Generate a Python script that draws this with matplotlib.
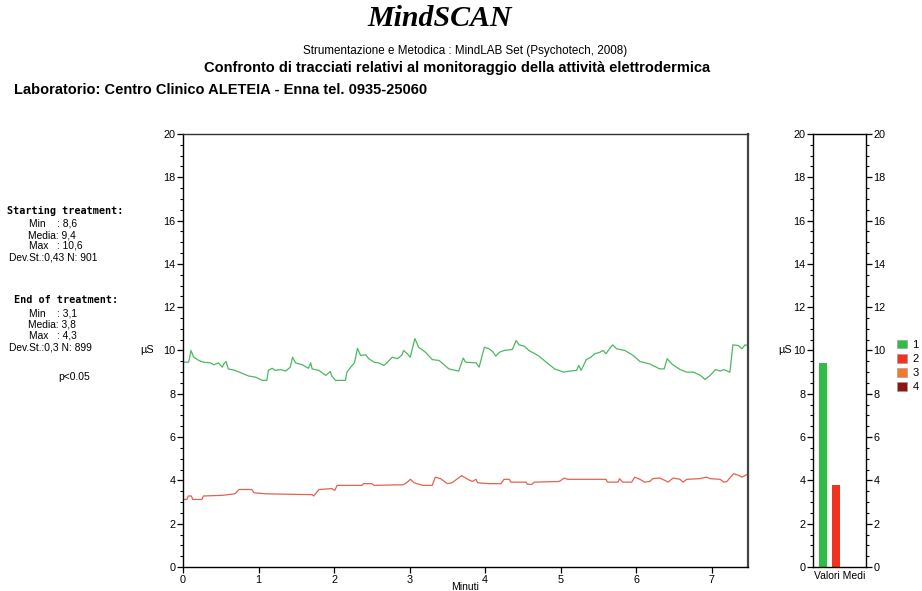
import matplotlib
matplotlib.use("Agg")
import matplotlib.pyplot as plt
from matplotlib.patches import Patch
from matplotlib.ticker import MultipleLocator

plt.rcParams['font.family'] = ['Liberation Sans', 'DejaVu Sans']

# tracciato inizio trattamento (verde) - minuti / microSiemens
start_t = [0.00, 0.075, 0.106, 0.14, 0.21, 0.27, 0.36, 0.41, 0.47, 0.52, 0.54, 0.57, 0.60, 0.69,
           0.78, 0.87, 0.96, 1.05, 1.11, 1.13, 1.18, 1.22, 1.29, 1.36, 1.42, 1.45, 1.49, 1.58,
           1.66, 1.69, 1.71, 1.80, 1.89, 1.95, 1.97, 2.02, 2.15, 2.17, 2.22, 2.27, 2.31, 2.35,
           2.42, 2.46, 2.53, 2.59, 2.66, 2.70, 2.77, 2.84, 2.90, 2.92, 2.97, 3.01, 3.03, 3.07,
           3.12, 3.21, 3.30, 3.39, 3.52, 3.65, 3.71, 3.74, 3.88, 3.92, 3.99, 4.05, 4.10, 4.14,
           4.19, 4.25, 4.36, 4.41, 4.45, 4.52, 4.58, 4.70, 4.81, 4.92, 5.04, 5.12, 5.21, 5.24,
           5.27, 5.34, 5.40, 5.45, 5.52, 5.56, 5.60, 5.65, 5.69, 5.74, 5.85, 5.96, 6.05, 6.18,
           6.31, 6.37, 6.41, 6.47, 6.58, 6.67, 6.76, 6.85, 6.91, 6.98, 7.05, 7.11, 7.16, 7.24,
           7.28, 7.35, 7.40, 7.44, 7.47]
start_us = [9.46, 9.46, 10.0, 9.70, 9.54, 9.46, 9.43, 9.34, 9.43, 9.23, 9.38, 9.49, 9.15, 9.08,
            8.95, 8.82, 8.77, 8.62, 8.62, 9.08, 9.18, 9.08, 9.12, 9.05, 9.23, 9.69, 9.43, 9.34,
            9.18, 9.43, 9.15, 9.08, 8.85, 9.03, 8.82, 8.62, 8.62, 9.00, 9.23, 9.43, 10.1, 9.77,
            9.80, 9.62, 9.46, 9.43, 9.31, 9.43, 9.69, 9.62, 9.80, 10.0, 9.85, 9.69, 10.0, 10.55,
            10.15, 9.92, 9.58, 9.54, 9.15, 9.05, 9.65, 9.46, 9.43, 9.23, 10.15, 10.08, 9.95, 9.74,
            9.92, 10.0, 10.05, 10.46, 10.26, 10.20, 10.0, 9.77, 9.46, 9.15, 9.00, 9.05, 9.08, 9.31,
            9.08, 9.58, 9.69, 9.85, 9.92, 10.0, 9.85, 10.1, 10.26, 10.08, 10.0, 9.77, 9.49, 9.38,
            9.15, 9.15, 9.62, 9.38, 9.12, 9.00, 9.00, 8.85, 8.66, 8.85, 9.12, 9.05, 9.12, 9.00,
            10.26, 10.23, 10.08, 10.26, 10.23]

# tracciato fine trattamento (rosso)
end_t = [0.00, 0.05, 0.07, 0.11, 0.13, 0.25, 0.27, 0.52, 0.69, 0.74, 0.91, 0.94, 1.09, 1.71,
         1.73, 1.80, 1.97, 2.01, 2.04, 2.37, 2.39, 2.50, 2.53, 2.92, 2.97, 3.01, 3.06, 3.17,
         3.30, 3.34, 3.41, 3.50, 3.56, 3.69, 3.77, 3.83, 3.88, 3.90, 4.05, 4.21, 4.25, 4.32,
         4.34, 4.54, 4.56, 4.62, 4.65, 4.98, 5.05, 5.09, 5.60, 5.62, 5.76, 5.78, 5.82, 5.94,
         5.98, 6.05, 6.11, 6.18, 6.22, 6.31, 6.38, 6.42, 6.49, 6.58, 6.62, 6.67, 6.84, 6.93,
         6.98, 7.11, 7.16, 7.20, 7.29, 7.36, 7.40, 7.46]
end_us = [3.12, 3.12, 3.28, 3.28, 3.12, 3.12, 3.28, 3.31, 3.38, 3.58, 3.58, 3.43, 3.38, 3.34,
          3.28, 3.58, 3.62, 3.54, 3.77, 3.77, 3.85, 3.85, 3.77, 3.80, 3.92, 4.05, 3.89, 3.77,
          3.77, 4.15, 4.08, 3.85, 3.89, 4.22, 4.05, 3.95, 4.05, 3.89, 3.85, 3.85, 4.05, 4.05,
          3.92, 3.92, 3.82, 3.82, 3.92, 3.95, 4.11, 4.05, 4.05, 3.92, 3.92, 4.08, 3.92, 3.92,
          4.15, 4.05, 3.92, 3.95, 4.08, 4.11, 4.00, 3.92, 4.11, 4.05, 3.92, 4.05, 4.08, 4.15,
          4.08, 4.05, 3.92, 3.95, 4.31, 4.23, 4.15, 4.26]

# valori medi
serie = ['1', '2', '3', '4']
medie = [9.4, 3.8]
col_serie = ['#2fbd45', '#f0321e', '#f5782d', '#8a1712']

fig = plt.figure(figsize=(9.22, 5.91), dpi=100)

fig.text(440 / 922, 1 - 19 / 591, 'MindSCAN', family='Liberation Serif', style='italic',
         weight='bold', fontsize=21.5, ha='center', va='center')
fig.text(465 / 922, 1 - 51 / 591, 'Strumentazione e Metodica : MindLAB Set (Psychotech, 2008)',
         fontsize=8.4, ha='center', va='center')
fig.text(457 / 922, 1 - 68 / 591,
         'Confronto di tracciati relativi al monitoraggio della attività elettrodermica',
         fontsize=10.5, weight='bold', ha='center', va='center')
fig.text(14 / 922, 1 - 90 / 591, 'Laboratorio: Centro Clinico ALETEIA - Enna tel. 0935-25060',
         fontsize=10.5, weight='bold', ha='left', va='center')

# statistiche a sinistra
mono = dict(family='DejaVu Sans Mono', weight='bold', fontsize=7.3, va='center')
small = dict(fontsize=7.4, va='center')
fig.text(7 / 922, 1 - 211 / 591, 'Starting treatment:', **mono)
fig.text(29 / 922, 1 - 224 / 591, 'Min    : 8,6', **small)
fig.text(28 / 922, 1 - 235 / 591, 'Media: 9,4', **small)
fig.text(29 / 922, 1 - 246 / 591, 'Max   : 10,6', **small)
fig.text(9 / 922, 1 - 258 / 591, 'Dev.St.:0,43 N: 901', **small)
fig.text(14 / 922, 1 - 300 / 591, 'End of treatment:', **mono)
fig.text(29 / 922, 1 - 314 / 591, 'Min    : 3,1', **small)
fig.text(28 / 922, 1 - 325 / 591, 'Media: 3,8', **small)
fig.text(29 / 922, 1 - 336 / 591, 'Max   : 4,3', **small)
fig.text(9 / 922, 1 - 348 / 591, 'Dev.St.:0,3 N: 899', **small)
fig.text(58 / 922, 1 - 377 / 591, 'p<0.05', **small)

def stile_asse(ax):
    ax.set_ylim(0, 20)
    ax.yaxis.set_major_locator(MultipleLocator(2))
    ax.yaxis.set_minor_locator(MultipleLocator(0.5))
    ax.tick_params(axis='both', which='major', direction='out', length=4, width=0.9,
                   labelsize=7.8, pad=1.5)
    ax.tick_params(axis='y', which='minor', direction='out', length=2.2, width=0.8)
    for s in ax.spines.values():
        s.set_linewidth(1.0)
    ax.text(-0.0, 10, 'µS', transform=ax.get_yaxis_transform(), fontsize=7.8,
            ha='right', va='center')

# grafico principale
ax = fig.add_axes([183 / 922, 1 - 567 / 591, 565 / 922, 433 / 591])
ax.plot(start_t, start_us, color='#4cb860', lw=0.9)
ax.plot(end_t, end_us, color='#e0644e', lw=0.9)
ax.set_xlim(0, 7.48)
ax.set_xticks(range(8))
stile_asse(ax)
ax.texts[-1].set_x(-0.052)
ax.spines['right'].set_color('#444444')
ax.spines['right'].set_linewidth(1.6)
ax.spines['top'].set_color('#333333')
ax.set_xlabel('Minuti', fontsize=7.5, labelpad=-2)

# grafico valori medi
axb = fig.add_axes([813 / 922, 1 - 567 / 591, 53 / 922, 433 / 591])
axb.bar(range(len(medie)), medie, width=0.65, color=col_serie[:len(medie)])
axb.set_xlim(-0.75, 3.25)
axb.set_xticks([])
stile_asse(axb)
axb.texts[-1].set_x(-0.40)
axb.tick_params(axis='y', which='both', right=True, labelright=True)
axb.set_xlabel('Valori Medi', fontsize=7.5, labelpad=3)

maniglie = [Patch(facecolor=c, edgecolor='#999999', lw=0.4) for c in col_serie]
fig.legend(maniglie, serie, loc='center left', bbox_to_anchor=(893 / 922, 1 - 366 / 591),
           frameon=False, fontsize=8, handlelength=0.85, handleheight=0.85,
           handletextpad=0.5, labelspacing=0.35, borderaxespad=0)

fig.savefig('out.png', dpi=100)
